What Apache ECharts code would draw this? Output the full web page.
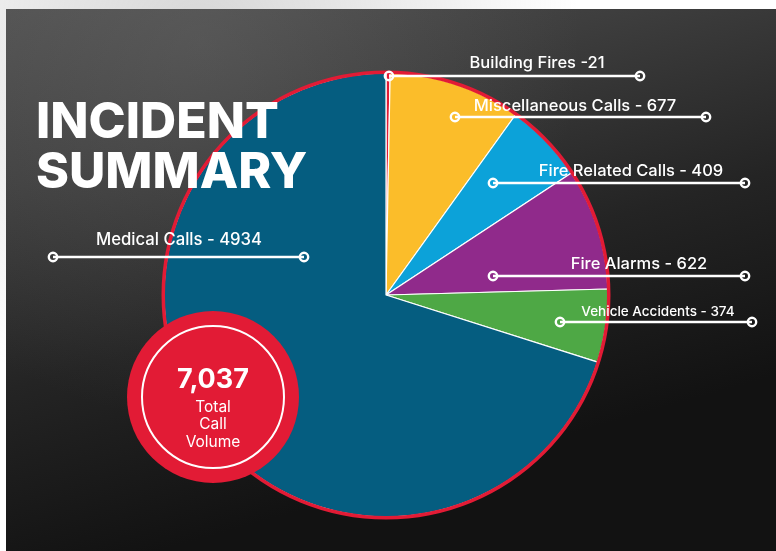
<!DOCTYPE html>
<html>
<head>
<meta charset="utf-8">
<script src="https://cdn.jsdelivr.net/npm/echarts@6/dist/echarts.min.js"></script>
<style>
html,body{margin:0;padding:0;background:#fff;}
#c{width:776px;height:551px;}
</style>
</head>
<body>
<div id="c"></div>
<script>
// ---- data ----
const categories = ['Building Fires', 'Miscellaneous Calls', 'Fire Related Calls', 'Fire Alarms', 'Vehicle Accidents', 'Medical Calls'];
const values = [21, 677, 409, 622, 374, 4934];
const separators = [' -', ' - ', ' - ', ' - ', ' - ', ' - '];
const titleLines = ['INCIDENT', 'SUMMARY'];
const totalCaption = ['Total', 'Call', 'Volume'];

// ---- styles / layout ----
const colors = ['#e21b35', '#fbbd2a', '#0ca2d9', '#902a8b', '#4ea845', '#055d80'];
const RED = '#e21b35';
const FONT = 'Inter, "Noto Sans", sans-serif';
const pieCenter = [386, 295];
const pieRadius = 222;
// annotation callout layout: line from x1 to x2 at y; text centred at tx, ty
const calloutLayout = [
  { x1: 389, x2: 640, y: 76,  tx: 537, ty: 63,  fs: 16.5 },
  { x1: 455, x2: 706, y: 117, tx: 575, ty: 106, fs: 16.5 },
  { x1: 493, x2: 745, y: 183, tx: 631, ty: 171, fs: 16.5 },
  { x1: 493, x2: 745, y: 276, tx: 639, ty: 264, fs: 16.5 },
  { x1: 560, x2: 752, y: 322, tx: 658, ty: 312, fs: 13.5 },
  { x1: 53,  x2: 304, y: 257, tx: 179, ty: 240, fs: 16.7 }
];

const total = values.reduce((a, b) => a + b, 0);

const graphics = [];
// background board
graphics.push({
  type: 'rect', z: -100, silent: true,
  shape: { x: 6, y: 9, width: 770, height: 542 },
  style: {
    fill: {
      type: 'linear', x: 0, y: 0, x2: 0.2, y2: 1,
      colorStops: [
        { offset: 0, color: '#505050' },
        { offset: 0.3, color: '#3e3e3e' },
        { offset: 0.65, color: '#242424' },
        { offset: 1, color: '#121212' }
      ]
    }
  }
});
graphics.push({
  type: 'circle', z: -99, silent: true,
  shape: { cx: 200, cy: 40, r: 380 },
  style: {
    fill: {
      type: 'radial', x: 0.5, y: 0.5, r: 0.5,
      colorStops: [
        { offset: 0, color: 'rgba(120,120,120,0.3)' },
        { offset: 1, color: 'rgba(120,120,120,0)' }
      ]
    }
  }
});

// title
titleLines.forEach((t, i) => {
  graphics.push({
    type: 'text', z: 50, left: 36, top: 98 + i * 50,
    style: { text: t, fill: '#ffffff', font: '800 50px ' + FONT }
  });
});

// callouts
categories.forEach((name, i) => {
  const L = calloutLayout[i];
  graphics.push({
    type: 'line', z: 60, silent: true,
    shape: { x1: L.x1, y1: L.y, x2: L.x2, y2: L.y },
    style: { stroke: '#ffffff', lineWidth: 2.6 }
  });
  [L.x1, L.x2].forEach(cx => {
    graphics.push({
      type: 'circle', z: 61, silent: true,
      shape: { cx: cx, cy: L.y, r: 4.2 },
      style: { fill: 'rgba(0,0,0,0)', stroke: '#ffffff', lineWidth: 2.4 }
    });
  });
  graphics.push({
    type: 'text', z: 62, x: L.tx, y: L.ty,
    style: {
      text: name + separators[i] + values[i],
      fill: '#ffffff', font: '500 ' + L.fs + 'px ' + FONT,
      align: 'center', verticalAlign: 'middle'
    }
  });
});

// total badge
graphics.push({
  type: 'circle', z: 70, silent: true,
  shape: { cx: 213, cy: 397, r: 86 },
  style: { fill: RED }
});
graphics.push({
  type: 'circle', z: 71, silent: true,
  shape: { cx: 213, cy: 397, r: 71 },
  style: { fill: 'rgba(0,0,0,0)', stroke: '#ffffff', lineWidth: 2 }
});
graphics.push({
  type: 'text', z: 72, x: 213, y: 380,
  style: { text: total.toLocaleString('en-US'), fill: '#fff', font: '700 27px ' + FONT, align: 'center', verticalAlign: 'middle' }
});
totalCaption.forEach((t, i) => {
  graphics.push({
    type: 'text', z: 72, x: 213, y: 407 + i * 17.5,
    style: { text: t, fill: '#fff', font: '400 15.5px ' + FONT, align: 'center', verticalAlign: 'middle' }
  });
});

const chart = echarts.init(document.getElementById('c'), null, { renderer: 'canvas' });
chart.setOption({
  backgroundColor: 'transparent',
  animation: false,
  graphic: graphics,
  series: [
    {
      type: 'pie', z: 2,
      center: pieCenter, radius: [0, pieRadius],
      startAngle: 90, clockwise: true,
      label: { show: false }, labelLine: { show: false },
      silent: true,
      itemStyle: { borderColor: '#ffffff', borderWidth: 1.2 },
      data: categories.map((n, i) => ({ name: n, value: values[i], itemStyle: { color: colors[i] } }))
    },
    {
      type: 'pie', z: 3,
      center: pieCenter, radius: [pieRadius - 1, pieRadius + 2.5],
      label: { show: false }, labelLine: { show: false },
      silent: true,
      itemStyle: { color: RED },
      data: [{ name: 'ring', value: total }]
    }
  ]
});
</script>
</body>
</html>
